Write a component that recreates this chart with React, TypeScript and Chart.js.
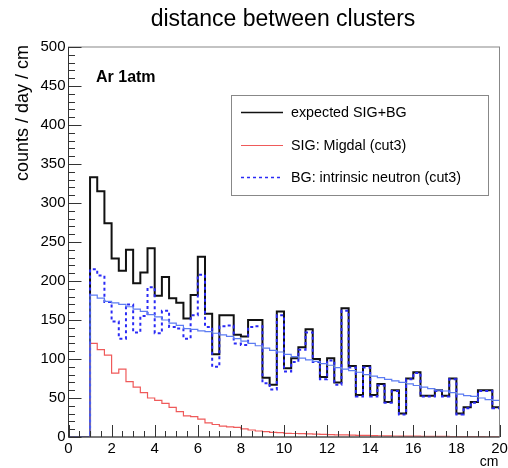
import React, { useEffect, useRef } from "react";
import { Chart, registerables } from "chart.js";

Chart.register(...registerables);

const X_MIN = 0;
const X_MAX = 20;
const BIN_WIDTH = 1 / 3;
const X_TICK_STEP = 2;
const X_MINOR_STEP = 0.5;
const Y_MIN = 0;
const Y_MAX = 500;
const Y_TICK_STEP = 50;
const Y_MINOR_STEP = 10;

const TITLE = "distance between clusters";
const X_TITLE = "cm";
const Y_TITLE = "counts / day / cm";
const ANNOTATION = "Ar 1atm";

const LABEL_TOTAL = "expected SIG+BG";
const LABEL_SIGNAL = "SIG: Migdal (cut3)";
const LABEL_BACKGROUND = "BG: intrinsic neutron (cut3)";

// 60 bins of 1/3 cm from 0 to 20 cm
const TOTAL = [
  0, 0, 0,
  333, 315, 274, 229, 213, 240, 197, 211, 242, 181,
  205, 178, 172, 152, 182, 231, 158, 106, 156, 156,
  131, 129, 150, 150, 76, 67, 161, 88, 101, 115,
  138, 100, 77, 101, 70, 165, 91, 54, 91, 54,
  68, 45, 60, 30, 75, 83, 53, 53, 60, 53,
  75, 30, 38, 45, 60, 60, 38,
];

const SIGNAL = [
  0, 0, 0,
  120, 112, 105, 82, 87, 71, 64, 57, 50, 47,
  43, 38, 32.5, 27, 26, 23, 18, 16, 14, 13,
  12.4, 10.3, 9, 7.7, 6.8, 6, 5.5, 4.7, 4.5, 4.2,
  4.0, 3.7, 3.4, 3.1, 2.8, 2.6, 2.4, 2.2, 2.0, 1.8,
  1.6, 1.5, 1.3, 1.2, 1.1, 1.0, 0.9, 0.8, 0.7, 0.7,
  0.6, 0.5, 0.5, 0.4, 0.4, 0.3, 0.3,
];

const BACKGROUND = [
  0, 0, 0,
  215, 207, 173, 148, 126, 170, 134, 155, 192, 133,
  162, 141, 139, 126, 156, 208, 141, 90, 142, 143,
  120, 118, 141, 142, 69, 61, 156, 84, 96, 112,
  134, 96, 74, 98, 67, 162, 89, 52, 89, 52,
  66, 44, 59, 29, 74, 82, 52, 52, 59, 52,
  74, 29, 37, 44, 59, 59, 37,
];

const BACKGROUND_SMOOTH = [
  0, 0, 0,
  182, 178, 174, 172, 170, 167, 164, 161, 157, 154,
  150, 146, 143, 139, 138, 136, 135, 133, 131, 129,
  126, 123, 120, 117, 114, 111, 109, 106, 103, 101,
  99, 97, 94, 92, 89, 87, 85, 83, 80, 78,
  76, 74, 72, 70, 68, 66, 64, 62, 60, 59,
  57, 55, 53, 52, 50, 48, 47,
];

const FONT = '"Liberation Sans", Arial, Helvetica, sans-serif';

function toSteps(values: number[]) {
  const pts = values.map((v, i) => ({ x: X_MIN + i * BIN_WIDTH, y: v }));
  pts.push({ x: X_MAX, y: values[values.length - 1] });
  return pts;
}

const decorPlugin = {
  id: "decor",
  afterDraw(chart: any) {
    const { ctx, chartArea: a, scales } = chart;
    const xs = scales.x;
    const ys = scales.y;
    ctx.save();

    // frame
    ctx.lineWidth = 1;
    ctx.strokeStyle = "#888";
    ctx.strokeRect(a.left, a.top, a.right - a.left, a.bottom - a.top);
    ctx.strokeStyle = "#333";
    ctx.beginPath();
    ctx.moveTo(a.left, a.top);
    ctx.lineTo(a.left, a.bottom);
    ctx.lineTo(a.right, a.bottom);
    ctx.stroke();

    // y ticks (inside)
    ctx.beginPath();
    for (let v = Y_MIN; v <= Y_MAX + 1e-6; v += Y_MINOR_STEP) {
      const major = Math.abs(v / Y_TICK_STEP - Math.round(v / Y_TICK_STEP)) < 1e-6;
      const py = Math.round(ys.getPixelForValue(v)) + 0.5;
      ctx.moveTo(a.left, py);
      ctx.lineTo(a.left + (major ? 13 : 6.5), py);
    }
    // x ticks (inside)
    for (let v = X_MIN; v <= X_MAX + 1e-6; v += X_MINOR_STEP) {
      const major = Math.abs(v / X_TICK_STEP - Math.round(v / X_TICK_STEP)) < 1e-6;
      const px = Math.round(xs.getPixelForValue(v)) + 0.5;
      ctx.moveTo(px, a.bottom);
      ctx.lineTo(px, a.bottom - (major ? 12 : 6));
    }
    ctx.stroke();

    // title
    ctx.fillStyle = "#000";
    ctx.font = `23px ${FONT}`;
    ctx.textAlign = "center";
    ctx.textBaseline = "alphabetic";
    ctx.fillText(TITLE, 283, 26);

    // axis titles
    ctx.font = `14px ${FONT}`;
    ctx.textAlign = "right";
    ctx.fillText(X_TITLE, a.right - 1, 466);

    ctx.save();
    ctx.translate(28, a.top - 2);
    ctx.rotate(-Math.PI / 2);
    ctx.textAlign = "right";
    ctx.textBaseline = "alphabetic";
    ctx.font = `18px ${FONT}`;
    ctx.fillText(Y_TITLE, 0, 0);
    ctx.restore();

    // annotation
    ctx.font = `bold 16px ${FONT}`;
    ctx.textAlign = "left";
    ctx.textBaseline = "alphabetic";
    ctx.fillText(ANNOTATION, 96, 82);

    // legend box
    const lx = 231.5, ly = 95.5, lw = 257, lh = 100;
    ctx.fillStyle = "#fff";
    ctx.fillRect(lx, ly, lw, lh);
    ctx.strokeStyle = "#888";
    ctx.lineWidth = 1;
    ctx.strokeRect(lx, ly, lw, lh);
    const entries = chart.data.datasets.filter((d: any) => d.showInLegend);
    const rowY = [112, 145, 177];
    entries.forEach((d: any, i: number) => {
      const y = rowY[i] + 0.5;
      ctx.save();
      ctx.strokeStyle = d.borderColor;
      ctx.lineWidth = d.legendWidth || d.borderWidth;
      ctx.setLineDash(d.borderDash || []);
      ctx.beginPath();
      ctx.moveTo(241, y);
      ctx.lineTo(283, y);
      ctx.stroke();
      ctx.restore();
      ctx.fillStyle = "#000";
      ctx.font = `14.3px ${FONT}`;
      ctx.textAlign = "left";
      ctx.textBaseline = "middle";
      ctx.fillText(d.label, 291, rowY[i] + 1);
    });

    ctx.restore();
  },
};

export default function App() {
  const ref = useRef<HTMLCanvasElement>(null);

  useEffect(() => {
    const canvas = ref.current;
    if (!canvas) return;
    const chart = new Chart(canvas, {
      type: "line",
      data: {
        datasets: [
          {
            label: LABEL_TOTAL,
            data: toSteps(TOTAL),
            borderColor: "#111111",
            borderWidth: 2,
            stepped: true,
            fill: false,
            pointRadius: 0,
            order: 3,
            showInLegend: true,
            legendWidth: 1.5,
          } as any,
          {
            label: LABEL_SIGNAL,
            data: toSteps(SIGNAL),
            borderColor: "#ef5a5a",
            borderWidth: 1.2,
            stepped: true,
            fill: false,
            pointRadius: 0,
            order: 2,
            showInLegend: true,
            legendWidth: 1,
          } as any,
          {
            label: LABEL_BACKGROUND,
            data: toSteps(BACKGROUND),
            borderColor: "#2a2af5",
            borderWidth: 2,
            borderDash: [3, 3],
            stepped: true,
            fill: false,
            pointRadius: 0,
            order: 1,
            showInLegend: true,
            legendWidth: 1.5,
          } as any,
          {
            label: "BG smooth",
            data: toSteps(BACKGROUND_SMOOTH),
            borderColor: "#5c7cf2",
            borderWidth: 1.2,
            stepped: true,
            fill: false,
            pointRadius: 0,
            order: 0,
            showInLegend: false,
          } as any,
        ],
      },
      options: {
        animation: false,
        responsive: false,
        devicePixelRatio: 1,
        layout: { padding: { left: 0, top: 47, right: 8.5, bottom: 0 } },
        plugins: {
          legend: { display: false },
          title: { display: false },
          tooltip: { enabled: false },
        },
        scales: {
          x: {
            type: "linear",
            min: X_MIN,
            max: X_MAX,
            grid: { display: false, drawTicks: false },
            border: { display: false },
            ticks: {
              stepSize: X_TICK_STEP,
              color: "#000",
              font: { family: FONT, size: 15 },
              padding: 3,
              maxRotation: 0,
              autoSkip: false,
            },
            afterFit: (s: any) => {
              s.height = 31;
              s.paddingLeft = 0;
              s.paddingRight = 0;
            },
          },
          y: {
            type: "linear",
            min: Y_MIN,
            max: Y_MAX,
            grid: { display: false, drawTicks: false },
            border: { display: false },
            ticks: {
              stepSize: Y_TICK_STEP,
              color: "#000",
              font: { family: FONT, size: 15 },
              padding: 3,
            },
            afterFit: (s: any) => {
              s.width = 68.5;
              s.paddingTop = 0;
              s.paddingBottom = 0;
            },
          },
        },
      },
      plugins: [decorPlugin],
    });
    return () => chart.destroy();
  }, []);

  return (
    <div style={{ position: "fixed", left: 0, top: 0, width: 508, height: 468, background: "#fff" }}>
      <canvas ref={ref} width={508} height={468} style={{ display: "block", width: 508, height: 468 }} />
    </div>
  );
}
